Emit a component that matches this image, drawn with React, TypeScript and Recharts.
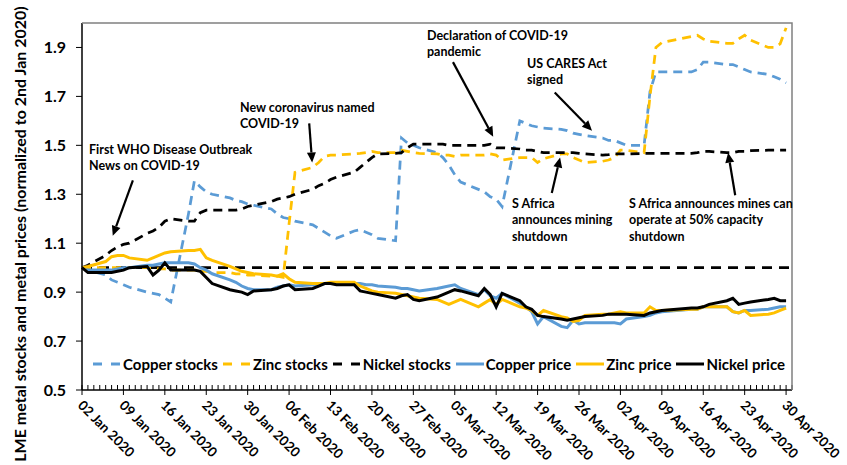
import React from 'react';
import { LineChart, Line, XAxis, YAxis, ReferenceLine, Legend } from 'recharts';

// LME trading days, Jan-Apr 2020 (MM-DD)
const dates = [
  '01-02', '01-03', '01-06', '01-07', '01-08', '01-09', '01-10', '01-13', '01-14', '01-15', '01-16',
  '01-17', '01-20', '01-21', '01-22', '01-23', '01-24', '01-27', '01-28', '01-29', '01-30', '01-31',
  '02-03', '02-04', '02-05', '02-06', '02-07', '02-10', '02-11', '02-12', '02-13', '02-14',
  '02-17', '02-18', '02-19', '02-20', '02-21', '02-24', '02-25', '02-26', '02-27', '02-28',
  '03-02', '03-03', '03-04', '03-05', '03-06', '03-09', '03-10', '03-11', '03-12', '03-13', '03-16',
  '03-17', '03-18', '03-19', '03-20', '03-23', '03-24', '03-25', '03-26', '03-27', '03-30', '03-31',
  '04-01', '04-02', '04-03', '04-06', '04-07', '04-08', '04-09', '04-14', '04-15', '04-16',
  '04-17', '04-20', '04-21', '04-22', '04-23', '04-24', '04-27', '04-28', '04-29', '04-30',
];

const copperStocks = [
  1.0, 0.99, 0.97, 0.95, 0.94, 0.93, 0.92, 0.9, 0.895, 0.89, 0.875,
  0.86, 1.22, 1.355, 1.33, 1.31, 1.3, 1.285, 1.275, 1.27, 1.26, 1.255,
  1.24, 1.22, 1.205, 1.2, 1.19, 1.175, 1.16, 1.145, 1.13, 1.12,
  1.15, 1.155, 1.145, 1.135, 1.12, 1.11, 1.53, 1.51, 1.5, 1.49,
  1.47, 1.45, 1.42, 1.38, 1.35, 1.32, 1.31, 1.29, 1.28, 1.25, 1.6,
  1.59, 1.58, 1.575, 1.57, 1.565, 1.56, 1.55, 1.545, 1.54, 1.53, 1.52,
  1.52, 1.51, 1.5, 1.5, 1.72, 1.8, 1.8, 1.8, 1.81, 1.84,
  1.84, 1.83, 1.83, 1.82, 1.81, 1.8, 1.79, 1.78, 1.77, 1.755,
];

const zincStocks = [
  1.0, 1.0, 1.0, 1.0, 1.0, 1.0, 1.0, 1.0, 1.0, 0.995, 0.995,
  0.99, 0.99, 0.99, 0.985, 0.985, 0.98, 0.98, 0.975, 0.975, 0.97, 0.97,
  0.965, 0.965, 0.96, 1.18, 1.39, 1.41, 1.43, 1.455, 1.46, 1.46,
  1.465, 1.467, 1.47, 1.475, 1.47, 1.47, 1.48, 1.475, 1.47, 1.467,
  1.465, 1.46, 1.46, 1.455, 1.46, 1.46, 1.46, 1.465, 1.46, 1.44, 1.45,
  1.45, 1.45, 1.43, 1.445, 1.465, 1.465, 1.45, 1.44, 1.43, 1.435, 1.44,
  1.45, 1.48, 1.48, 1.47, 1.7, 1.9, 1.92, 1.945, 1.95, 1.935,
  1.925, 1.917, 1.917, 1.935, 1.95, 1.93, 1.9, 1.9, 1.915, 1.98,
];

const nickelStocks = [
  1.0, 1.01, 1.05, 1.07, 1.085, 1.095, 1.1, 1.14, 1.15, 1.165, 1.19,
  1.2, 1.19, 1.19, 1.225, 1.235, 1.235, 1.235, 1.235, 1.24, 1.25, 1.255,
  1.27, 1.28, 1.285, 1.29, 1.3, 1.32, 1.335, 1.345, 1.36, 1.37,
  1.39, 1.41, 1.43, 1.45, 1.465, 1.467, 1.47, 1.49, 1.505, 1.505,
  1.505, 1.505, 1.5, 1.5, 1.5, 1.5, 1.5, 1.505, 1.49, 1.49, 1.485,
  1.48, 1.48, 1.475, 1.47, 1.47, 1.47, 1.47, 1.467, 1.465, 1.46, 1.462,
  1.465, 1.465, 1.465, 1.467, 1.467, 1.467, 1.467, 1.467, 1.47, 1.475,
  1.475, 1.47, 1.47, 1.475, 1.475, 1.478, 1.48, 1.48, 1.48, 1.48,
];

const copperPrice = [
  1.0, 0.99, 0.99, 0.99, 0.995, 1.0, 1.0, 1.01, 1.01, 1.015, 1.02,
  1.02, 1.02, 1.015, 1.0, 0.99, 0.975, 0.95, 0.94, 0.925, 0.915, 0.91,
  0.91, 0.92, 0.925, 0.93, 0.925, 0.93, 0.93, 0.935, 0.935, 0.935,
  0.935, 0.935, 0.93, 0.93, 0.925, 0.92, 0.915, 0.915, 0.91, 0.905,
  0.915, 0.92, 0.925, 0.93, 0.915, 0.89, 0.91, 0.885, 0.875, 0.895, 0.855,
  0.84, 0.82, 0.77, 0.8, 0.76, 0.755, 0.785, 0.77, 0.775, 0.775, 0.775,
  0.775, 0.77, 0.79, 0.8, 0.805, 0.815, 0.82, 0.83, 0.83, 0.84,
  0.84, 0.84, 0.82, 0.815, 0.825, 0.825, 0.83, 0.835, 0.84, 0.84,
];

const zincPrice = [
  1.0, 1.005, 1.025, 1.045, 1.05, 1.05, 1.04, 1.03, 1.04, 1.05, 1.06,
  1.065, 1.07, 1.07, 1.075, 1.04, 1.03, 1.005, 0.995, 0.985, 0.98, 0.975,
  0.97, 0.965, 0.975, 0.955, 0.94, 0.935, 0.935, 0.935, 0.94, 0.94,
  0.94, 0.925, 0.915, 0.905, 0.9, 0.895, 0.89, 0.885, 0.88, 0.875,
  0.87, 0.86, 0.85, 0.86, 0.87, 0.84, 0.855, 0.87, 0.85, 0.87, 0.84,
  0.835, 0.825, 0.805, 0.825, 0.8, 0.795, 0.78, 0.785, 0.805, 0.81, 0.81,
  0.815, 0.82, 0.815, 0.815, 0.84, 0.825, 0.825, 0.83, 0.83, 0.84,
  0.84, 0.84, 0.82, 0.815, 0.825, 0.805, 0.81, 0.815, 0.825, 0.835,
];

const nickelPrice = [
  1.0, 0.98, 0.98, 0.98, 0.985, 0.99, 1.0, 1.005, 0.97, 0.99, 1.02,
  0.99, 0.99, 0.99, 0.985, 0.96, 0.935, 0.91, 0.905, 0.9, 0.89, 0.905,
  0.91, 0.915, 0.925, 0.93, 0.91, 0.915, 0.925, 0.935, 0.935, 0.93,
  0.93, 0.905, 0.9, 0.895, 0.89, 0.875, 0.885, 0.89, 0.87, 0.865,
  0.88, 0.89, 0.9, 0.91, 0.905, 0.885, 0.915, 0.89, 0.84, 0.895, 0.865,
  0.84, 0.83, 0.805, 0.8, 0.79, 0.785, 0.79, 0.795, 0.8, 0.805, 0.81,
  0.81, 0.81, 0.81, 0.805, 0.815, 0.82, 0.825, 0.835, 0.835, 0.84,
  0.85, 0.865, 0.875, 0.85, 0.855, 0.86, 0.87, 0.875, 0.865, 0.865,
];

const yTicks = [0.5, 0.7, 0.9, 1.1, 1.3, 1.5, 1.7, 1.9];
const xTickLabels = [
  '02 Jan 2020', '09 Jan 2020', '16 Jan 2020', '23 Jan 2020', '30 Jan 2020', '06 Feb 2020',
  '13 Feb 2020', '20 Feb 2020', '27 Feb 2020', '05 Mar 2020', '12 Mar 2020', '19 Mar 2020',
  '26 Mar 2020', '02 Apr 2020', '09 Apr 2020', '16 Apr 2020', '23 Apr 2020', '30 Apr 2020',
];

const series = [
  { key: 'copperStocks', name: 'Copper stocks', color: '#5B9BD5', dashed: true },
  { key: 'zincStocks', name: 'Zinc stocks', color: '#FFC000', dashed: true },
  { key: 'nickelStocks', name: 'Nickel stocks', color: '#000000', dashed: true },
  { key: 'copperPrice', name: 'Copper price', color: '#5B9BD5', dashed: false },
  { key: 'zincPrice', name: 'Zinc price', color: '#FFC000', dashed: false },
  { key: 'nickelPrice', name: 'Nickel price', color: '#000000', dashed: false },
];

// arrows in data space: [day, value] -> [day, value]
const arrows = [
  [[8.6, 1.357], [5.2, 1.13]],
  [[38.4, 1.59], [38.9, 1.43]],
  [[62.7, 1.84], [69.5, 1.535]],
  [[79.9, 1.716], [86.2, 1.56]],
  [[79.4, 1.305], [80.8, 1.45]],
  [[110.4, 1.296], [109.2, 1.47]],
];

const notes = [
  { x: 89, y: 154, lines: ['First WHO Disease Outbreak', 'News on COVID-19'] },
  { x: 240, y: 112, lines: ['New coronavirus named', 'COVID-19'] },
  { x: 427, y: 40, lines: ['Declaration of COVID-19', 'pandemic'] },
  { x: 527, y: 68, lines: ['US CARES Act', 'signed'] },
  { x: 512, y: 208, lines: ['S Africa', 'announces mining', 'shutdown'] },
  { x: 629, y: 208, lines: ['S Africa announces mines can', 'operate at 50% capacity', 'shutdown'] },
];

const MONTHS: Record<string, number> = { Jan: 0, Feb: 1, Mar: 2, Apr: 3 };
const DAY0 = Date.UTC(2020, 0, 2);
const dayOf = (m: number, d: number) => (Date.UTC(2020, m, d) - DAY0) / 86400000;

const data = dates.map((s, i) => {
  const [m, d] = s.split('-').map(Number);
  return {
    day: dayOf(m - 1, d),
    copperStocks: copperStocks[i],
    zincStocks: zincStocks[i],
    nickelStocks: nickelStocks[i],
    copperPrice: copperPrice[i],
    zincPrice: zincPrice[i],
    nickelPrice: nickelPrice[i],
  };
});

const majorTicks = new Map<number, string>();
xTickLabels.forEach((l) => {
  const [d, mon] = l.split(' ');
  majorTicks.set(dayOf(MONTHS[mon], Number(d)), l);
});
const allTicks = Array.from({ length: 121 }, (_, i) => i);

const FONT = 'Lato, "DejaVu Sans", sans-serif';

const XTick = (props: any) => {
  const { x, y, payload } = props;
  const label = majorTicks.get(payload.value);
  return (
    <g>
      <line x1={x} x2={x} y1={y - 5} y2={label ? y + 5 : y} stroke="#000" strokeWidth={1} />
      {label && (
        <text
          x={x}
          y={y}
          dx={8}
          dy={15}
          transform={`rotate(45 ${x} ${y})`}
          fontSize={13.5}
          fontWeight={700}
          fill="#000"
          fontFamily={FONT}
        >
          {label}
        </text>
      )}
    </g>
  );
};

const Arrow = (props: any) => {
  const { x1, y1, x2, y2 } = props;
  const a = Math.atan2(y2 - y1, x2 - x1);
  const len = 10;
  const w = 4.5;
  const bx = x2 - len * Math.cos(a);
  const by = y2 - len * Math.sin(a);
  const px = -Math.sin(a) * w;
  const py = Math.cos(a) * w;
  return (
    <g>
      <line x1={x1} y1={y1} x2={bx} y2={by} stroke="#000" strokeWidth={2.2} />
      <polygon points={`${x2},${y2} ${bx + px},${by + py} ${bx - px},${by - py}`} fill="#000" />
    </g>
  );
};

const renderLegend = () => (
  <div style={{ display: 'flex', alignItems: 'center', fontFamily: FONT, fontSize: 15, fontWeight: 700, color: '#000' }}>
    {series.map((s) => (
      <div key={s.key} style={{ display: 'flex', alignItems: 'center', marginRight: 4 }}>
        <svg width={30} height={10}>
          <line
            x1={1}
            x2={29}
            y1={5}
            y2={5}
            stroke={s.color}
            strokeWidth={3}
            strokeDasharray={s.dashed ? '9 9' : undefined}
          />
        </svg>
        <span style={{ marginLeft: 1 }}>{s.name}</span>
      </div>
    ))}
  </div>
);

export default function App() {
  return (
    <div style={{ position: 'absolute', left: 0, top: 0, width: 847, height: 465, background: '#fff' }}>
      <LineChart width={847} height={465} data={data} margin={{ top: 23, right: 55, left: 0, bottom: 0 }}>
        <XAxis
          dataKey="day"
          type="number"
          domain={[0, 120]}
          ticks={allTicks}
          interval={0}
          height={75}
          tick={<XTick />}
          tickLine={false}
          tickSize={0}
          tickMargin={0}
          axisLine={{ stroke: '#000', strokeWidth: 1.5 }}
        />
        <YAxis
          type="number"
          domain={[0.5, 2.0]}
          ticks={yTicks}
          width={82}
          tickFormatter={(v: number) => v.toFixed(1)}
          tick={{ fontSize: 16, fontWeight: 700, fill: '#000', fontFamily: FONT }}
          tickSize={6}
          tickMargin={10}
          tickLine={{ stroke: '#000' }}
          axisLine={{ stroke: '#000', strokeWidth: 1.5 }}
        />
        <ReferenceLine y={1} stroke="#000" strokeWidth={2.75} strokeDasharray="10 7" />
        {series.map((s) => (
          <Line
            key={s.key}
            dataKey={s.key}
            name={s.name}
            type="linear"
            stroke={s.color}
            strokeWidth={s.dashed ? 2.75 : 3}
            strokeDasharray={s.dashed ? '9 6' : undefined}
            dot={false}
            activeDot={false}
            isAnimationActive={false}
          />
        ))}
        {arrows.map((a, i) => (
          <ReferenceLine
            key={i}
            segment={[{ x: a[0][0], y: a[0][1] }, { x: a[1][0], y: a[1][1] }]}
            shape={Arrow}
            ifOverflow="visible"
          />
        ))}
        <Legend
          verticalAlign="middle"
          layout="horizontal"
          content={renderLegend}
          wrapperStyle={{ top: 355, left: 92, width: 720, height: 20 }}
        />
      </LineChart>
      <svg
        width={847}
        height={465}
        style={{ position: 'absolute', left: 0, top: 0, pointerEvents: 'none' }}
        fontFamily={FONT}
      >
        <path d="M82,23 H792 V390" fill="none" stroke="#808080" strokeWidth={1.5} />
        <text
          transform="translate(26 234) rotate(-90)"
          textAnchor="middle"
          fontSize={16}
          fontWeight={700}
          fill="#000"
        >
          LME metal stocks and metal prices (normalized to 2nd Jan 2020)
        </text>
        {notes.map((n, i) => (
          <text key={i} x={n.x} y={n.y} fontSize={12.5} fontWeight={700} fill="#000">
            {n.lines.map((l, j) => (
              <tspan key={j} x={n.x} dy={j === 0 ? 0 : 16.3}>
                {l}
              </tspan>
            ))}
          </text>
        ))}
      </svg>
    </div>
  );
}
